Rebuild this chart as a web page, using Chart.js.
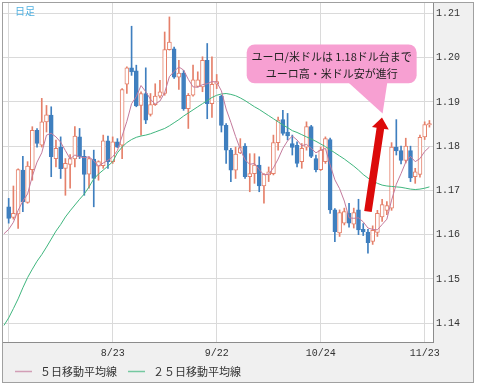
<!DOCTYPE html>
<html>
<head>
<meta charset="utf-8">
<script src="https://cdn.jsdelivr.net/npm/chart.js@4.4.0/dist/chart.umd.min.js"></script>
<style>
  html, body { margin: 0; padding: 0; background: #fff; }
  canvas { display: block; }
</style>
</head>
<body>
<canvas id="myChart" width="477" height="385"></canvas>
<script>
// daily candles, index 0 = 7/24 ... 89 = 11/24
const opens = [
  1.1663, 1.1639, 1.1647, 1.1746, 1.1673, 1.1747, 1.1836, 1.1802, 1.1855, 1.1870,
  1.1772, 1.1798, 1.1750, 1.1759, 1.1771, 1.1821, 1.1777, 1.1737, 1.1771, 1.1755,
  1.1756, 1.1812, 1.1765, 1.1810, 1.1802, 1.1940, 1.1977, 1.1970, 1.1892, 1.1919,
  1.1872, 1.1894, 1.1913, 1.1919, 1.2018, 1.2020, 1.1956, 1.1965, 1.1885, 1.1915,
  1.1935, 1.1934, 1.1994, 1.1896, 1.1940, 1.1913, 1.1847, 1.1791, 1.1746, 1.1785,
  1.1800, 1.1731, 1.1738, 1.1757, 1.1710, 1.1735, 1.1738, 1.1808, 1.1860, 1.1832,
  1.1806, 1.1802, 1.1765, 1.1798, 1.1844, 1.1772, 1.1747, 1.1765, 1.1815, 1.1656,
  1.1604, 1.1626, 1.1648, 1.1624, 1.1656, 1.1612, 1.1606, 1.1585, 1.1605, 1.1640,
  1.1655, 1.1660, 1.1798, 1.1790, 1.1768, 1.1790, 1.1731, 1.1736, 1.1821, 1.1848
];
const highs = [
  1.1682, 1.1710, 1.1749, 1.1777, 1.1765, 1.1844, 1.1840, 1.1908, 1.1892, 1.1889,
  1.1814, 1.1821, 1.1772, 1.1781, 1.1844, 1.1840, 1.1791, 1.1776, 1.1791, 1.1767,
  1.1825, 1.1823, 1.1821, 1.1817, 1.1930, 1.1979, 1.2071, 1.1983, 1.1923, 1.1977,
  1.1919, 1.1941, 1.1949, 1.2058, 1.2092, 1.2024, 1.1994, 1.1971, 1.1919, 1.1983,
  1.1968, 1.2002, 1.2032, 1.2002, 1.1962, 1.1915, 1.1851, 1.1795, 1.1798, 1.1817,
  1.1806, 1.1783, 1.1783, 1.1776, 1.1738, 1.1753, 1.1825, 1.1866, 1.1881, 1.1874,
  1.1825, 1.1810, 1.1806, 1.1855, 1.1847, 1.1780, 1.1798, 1.1821, 1.1818, 1.1659,
  1.1656, 1.1660, 1.1671, 1.1660, 1.1680, 1.1625, 1.1612, 1.1620, 1.1655, 1.1680,
  1.1675, 1.1808, 1.1860, 1.1800, 1.1818, 1.1800, 1.1750, 1.1825, 1.1855, 1.1858
];
const lows = [
  1.1626, 1.1635, 1.1614, 1.1652, 1.1671, 1.1723, 1.1798, 1.1798, 1.1832, 1.1731,
  1.1753, 1.1727, 1.1689, 1.1705, 1.1753, 1.1772, 1.1689, 1.1705, 1.1663, 1.1723,
  1.1750, 1.1750, 1.1761, 1.1797, 1.1772, 1.1919, 1.1960, 1.1889, 1.1825, 1.1851,
  1.1868, 1.1892, 1.1909, 1.1915, 1.2017, 1.1953, 1.1928, 1.1881, 1.1840, 1.1913,
  1.1934, 1.1923, 1.1862, 1.1865, 1.1930, 1.1832, 1.1761, 1.1720, 1.1727, 1.1783,
  1.1727, 1.1697, 1.1716, 1.1697, 1.1671, 1.1720, 1.1735, 1.1791, 1.1825, 1.1814,
  1.1780, 1.1753, 1.1750, 1.1791, 1.1774, 1.1742, 1.1745, 1.1761, 1.1648, 1.1584,
  1.1596, 1.1622, 1.1617, 1.1615, 1.1600, 1.1598, 1.1558, 1.1578, 1.1596, 1.1630,
  1.1645, 1.1655, 1.1780, 1.1760, 1.1762, 1.1720, 1.1716, 1.1730, 1.1815, 1.1843
];
const closes = [
  1.1637, 1.1648, 1.1747, 1.1674, 1.1755, 1.1836, 1.1806, 1.1855, 1.1871, 1.1776,
  1.1795, 1.1749, 1.1761, 1.1772, 1.1823, 1.1776, 1.1736, 1.1772, 1.1727, 1.1765,
  1.1812, 1.1765, 1.1810, 1.1798, 1.1928, 1.1977, 1.1968, 1.1891, 1.1919, 1.1859,
  1.1894, 1.1913, 1.1923, 1.2018, 1.2035, 1.1956, 1.1965, 1.1885, 1.1915, 1.1950,
  1.1950, 1.1994, 1.1896, 1.1940, 1.1946, 1.1847, 1.1791, 1.1746, 1.1782, 1.1797,
  1.1731, 1.1738, 1.1757, 1.1710, 1.1737, 1.1742, 1.1808, 1.1859, 1.1829, 1.1823,
  1.1797, 1.1761, 1.1795, 1.1844, 1.1777, 1.1747, 1.1791, 1.1817, 1.1656, 1.1607,
  1.1650, 1.1652, 1.1626, 1.1650, 1.1611, 1.1606, 1.1582, 1.1610, 1.1648, 1.1668,
  1.1666, 1.1798, 1.1789, 1.1768, 1.1800, 1.1728, 1.1742, 1.1820, 1.1849, 1.1851
];

// moving averages, first value sits one day before the first candle
const ma5 = [
  1.1602, 1.1612, 1.1628, 1.1655, 1.1676, 1.1692, 1.1732, 1.1764, 1.1785, 1.1825,
  1.1829, 1.1821, 1.1809, 1.1790, 1.1771, 1.1780, 1.1776, 1.1774, 1.1776, 1.1767,
  1.1755, 1.1762, 1.1768, 1.1776, 1.1790, 1.1823, 1.1856, 1.1896, 1.1912, 1.1937,
  1.1923, 1.1906, 1.1895, 1.1902, 1.1921, 1.1957, 1.1969, 1.1979, 1.1972, 1.1951,
  1.1934, 1.1933, 1.1939, 1.1941, 1.1946, 1.1945, 1.1925, 1.1884, 1.1854, 1.1822,
  1.1793, 1.1769, 1.1759, 1.1761, 1.1747, 1.1735, 1.1737, 1.1751, 1.1771, 1.1795,
  1.1812, 1.1823, 1.1814, 1.1801, 1.1804, 1.1795, 1.1785, 1.1791, 1.1795, 1.1758,
  1.1724, 1.1704, 1.1676, 1.1638, 1.1637, 1.1638, 1.1629, 1.1615, 1.1612, 1.1611,
  1.1623, 1.1635, 1.1678, 1.1714, 1.1738, 1.1764, 1.1777, 1.1765, 1.1772, 1.1788,
  1.1798
];
const ma25 = [
  1.1395, 1.1412, 1.1433, 1.1455, 1.1480, 1.1503, 1.1522, 1.1540, 1.1555, 1.1572,
  1.1590, 1.1608, 1.1623, 1.1640, 1.1654, 1.1667, 1.1680, 1.1692, 1.1708, 1.1726,
  1.1737, 1.1746, 1.1755, 1.1765, 1.1785, 1.1798, 1.1808, 1.1815, 1.1820, 1.1823,
  1.1825, 1.1828, 1.1832, 1.1836, 1.1840, 1.1846, 1.1853, 1.1860, 1.1868, 1.1875,
  1.1882, 1.1889, 1.1896, 1.1903, 1.1910, 1.1915, 1.1918, 1.1919, 1.1917, 1.1914,
  1.1909, 1.1903, 1.1896, 1.1889, 1.1883, 1.1876, 1.1869, 1.1862, 1.1855, 1.1848,
  1.1842, 1.1835, 1.1831, 1.1826, 1.1821, 1.1816, 1.1811, 1.1805, 1.1799, 1.1792,
  1.1785, 1.1778, 1.1771, 1.1763, 1.1755, 1.1746, 1.1736, 1.1728, 1.1721, 1.1716,
  1.1712, 1.1710, 1.1709, 1.1708, 1.1707, 1.1705, 1.1703, 1.1702, 1.1703, 1.1705,
  1.1708
];

const xTickIdx = [0, 22, 44, 66, 88];
const xTickLabels = ["", "8/23", "9/22", "10/24", "11/23"];
const yTicks = [1.14, 1.15, 1.16, 1.17, 1.18, 1.19, 1.20, 1.21];

const seriesNames = ["５日移動平均線", "２５日移動平均線"];
const calloutText = ["ユーロ/米ドルは 1.18ドル台まで", "ユーロ高・米ドル安が進行"];

const upColor = "#e5806a";
const downColor = "#3f7fbf";
const ma5Color = "#c47a9c";
const ma25Color = "#3fb67e";
const gridColor = "#dadada";

// callout + arrow placed in data units (index, price)
const callout = { x0: 50.35, x1: 86.3, top: 1.20297, bottom: 1.19421, tailX0: 71.8, tailX1: 80.1, tipX: 79.1, tipY: 1.18738 };
const arrow = { x0: 76.0, y0: 1.16524, x1: 78.97, y1: 1.18648 };

const isUp = opens.map((o, i) => closes[i] >= o);
const wicks = opens.map((o, i) => ({ x: i, y: [lows[i], highs[i]] }));
const bodies = opens.map((o, i) => ({ x: i, y: [Math.min(o, closes[i]), Math.max(o, closes[i])] }));
const ma5Pts = ma5.map((v, k) => ({ x: k - 1, y: v }));
const ma25Pts = ma25.map((v, k) => ({ x: k - 1, y: v }));

const frame = {
  id: "frame",
  beforeDraw(chart) {
    const c = chart.ctx, a = chart.chartArea;
    c.save();
    c.fillStyle = "#fff";
    c.fillRect(0, 0, chart.width, chart.height);
    c.fillStyle = "#f0f0f0";
    c.fillRect(2, 2, 472, 381);
    c.strokeStyle = "#a0a0a0";
    c.lineWidth = 1;
    c.strokeRect(2.5, 2.5, 471, 380);
    c.fillStyle = "#fff";
    c.fillRect(a.left, a.top, a.right - a.left, a.bottom - a.top);
    c.restore();
  },
  afterDraw(chart) {
    const c = chart.ctx;
    const xs = chart.scales.x, ys = chart.scales.y;
    c.save();
    // callout
    const l = xs.getPixelForValue(callout.x0), r = xs.getPixelForValue(callout.x1);
    const t = ys.getPixelForValue(callout.top), b = ys.getPixelForValue(callout.bottom);
    c.fillStyle = "#f7a0d2";
    c.beginPath();
    c.roundRect(l, t, r - l, b - t, 8);
    c.fill();
    c.beginPath();
    c.moveTo(xs.getPixelForValue(callout.tailX0), b - 1);
    c.lineTo(xs.getPixelForValue(callout.tailX1), b - 1);
    c.lineTo(xs.getPixelForValue(callout.tipX), ys.getPixelForValue(callout.tipY));
    c.closePath();
    c.fill();
    c.fillStyle = "#222";
    c.font = '11px "Noto Sans CJK JP"';
    c.textAlign = "center";
    c.textBaseline = "middle";
    c.fillText(calloutText[0], (l + r) / 2, t + 12.5);
    c.fillText(calloutText[1], (l + r) / 2, t + 29.5);

    // red arrow
    const ax0 = xs.getPixelForValue(arrow.x0), ay0 = ys.getPixelForValue(arrow.y0);
    const ax1 = xs.getPixelForValue(arrow.x1), ay1 = ys.getPixelForValue(arrow.y1);
    const len = Math.hypot(ax1 - ax0, ay1 - ay0);
    const ux = (ax1 - ax0) / len, uy = (ay1 - ay0) / len;
    const px = -uy, py = ux;
    const head = 11, hw = 8.5, sw = 3.8;
    const bx = ax1 - ux * head, by = ay1 - uy * head;
    c.fillStyle = "#dc0a0a";
    c.beginPath();
    c.moveTo(ax0 + px * sw, ay0 + py * sw);
    c.lineTo(bx + px * sw, by + py * sw);
    c.lineTo(bx + px * hw, by + py * hw);
    c.lineTo(ax1, ay1);
    c.lineTo(bx - px * hw, by - py * hw);
    c.lineTo(bx - px * sw, by - py * sw);
    c.lineTo(ax0 - px * sw, ay0 - py * sw);
    c.closePath();
    c.fill();

    // 日足 label
    c.fillStyle = "#4fb0e0";
    c.font = '10px "Noto Sans CJK JP"';
    c.textAlign = "left";
    c.fillText("日足", 15, 11);

    // legend
    c.font = '11px "Noto Sans CJK JP"';
    c.fillStyle = "#333";
    let lx = 15;
    const ly = 371.5;
    [ma5Color, ma25Color].forEach((col, k) => {
      c.strokeStyle = col;
      c.globalAlpha = 0.7;
      c.lineWidth = 1.5;
      c.beginPath();
      c.moveTo(lx, ly);
      c.lineTo(lx + 17, ly);
      c.stroke();
      c.globalAlpha = 1;
      c.fillText(seriesNames[k], lx + 25, ly);
      lx += 25 + c.measureText(seriesNames[k]).width + 11;
    });
    c.restore();
  }
};

const ctx = document.getElementById("myChart").getContext("2d");
const myChart = new Chart(ctx, {
  type: "bar",
  data: {
    datasets: [
      { type: "line", label: seriesNames[0], data: ma5Pts, borderColor: ma5Color, borderWidth: 1, pointRadius: 0, order: 0 },
      { type: "line", label: seriesNames[1], data: ma25Pts, borderColor: ma25Color, borderWidth: 1, pointRadius: 0, order: 1 },
      {
        label: "body", data: bodies, grouped: false, barThickness: 4, borderWidth: 1, borderSkipped: false,
        backgroundColor: isUp.map(u => u ? "#fff" : downColor),
        borderColor: isUp.map(u => u ? upColor : downColor),
        order: 2
      },
      {
        label: "wick", data: wicks, grouped: false, barThickness: 1,
        backgroundColor: isUp.map(u => u ? upColor : downColor),
        order: 3
      }
    ]
  },
  options: {
    responsive: false,
    animation: false,
    devicePixelRatio: 1,
    layout: { padding: { left: 3, top: 3, right: 0, bottom: 0 } },
    plugins: { legend: { display: false }, tooltip: { enabled: false } },
    scales: {
      x: {
        type: "linear",
        min: -1.2,
        max: 89.76,
        offset: false,
        afterBuildTicks: (s) => { s.ticks = xTickIdx.map(v => ({ value: v })); },
        afterFit: (s) => { s.height = 43; s.paddingLeft = 0; s.paddingRight = 0; },
        grid: { color: gridColor, drawTicks: false, offset: false },
        border: { color: "#8c8c8c" },
        ticks: {
          autoSkip: false, maxRotation: 0, padding: 5, color: "#333",
          font: { family: "Liberation Mono", size: 10 },
          callback: (v, idx) => xTickLabels[idx]
        }
      },
      y: {
        position: "right",
        min: 1.13575,
        max: 1.21235,
        afterBuildTicks: (s) => { s.ticks = yTicks.map(v => ({ value: v })); },
        afterFit: (s) => { s.width = 44; s.paddingTop = 0; s.paddingBottom = 0; },
        grid: { color: gridColor, drawTicks: false },
        border: { color: "#8c8c8c" },
        ticks: {
          padding: 3, color: "#333",
          font: { family: "Liberation Mono", size: 10 },
          callback: (v) => v.toFixed(2)
        }
      }
    }
  },
  plugins: [frame]
});
</script>
</body>
</html>
